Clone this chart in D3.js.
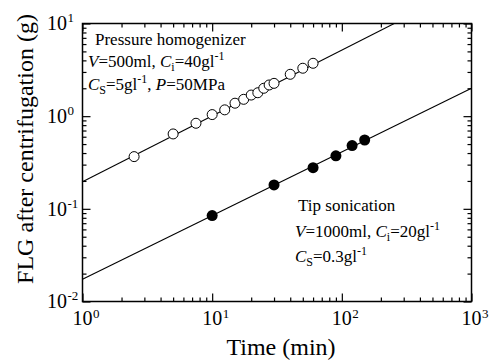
<!DOCTYPE html>
<html lang="en">
<head>
<meta charset="utf-8">
<title>FLG vs time</title>
<script type="text/javascript" src="https://cdn.jsdelivr.net/npm/d3@7/dist/d3.min.js"></script>
<style>
body { margin: 0; background: #fff; }
svg text { font-family: "Liberation Serif", "Times New Roman", serif; fill: #000; }
.tick line { stroke: #000; stroke-width: 1.2; }
.frame { fill: none; stroke: #000; stroke-width: 1.5; }
.fit { fill: none; stroke: #000; stroke-width: 1.1; }
</style>
</head>
<body>
<div id="chart"></div>
<script type="text/javascript">

// pressure homogenizer (open circles)
var homogTime = [2.5, 5, 7.5, 10, 12.5, 15, 17.5, 20, 22.5, 25, 27.5, 30, 40, 50, 60];
var homogMass = [0.366, 0.643, 0.838, 1.04, 1.17, 1.38, 1.52, 1.69, 1.79, 2.0, 2.17, 2.26, 2.83, 3.29, 3.72];

// tip sonication (filled circles)
var tipTime = [10, 30, 60, 90, 120, 150];
var tipMass = [0.0845, 0.181, 0.278, 0.373, 0.481, 0.553];

// fitted lines, end points
var homogFitTime = [1, 1000];
var homogFitMass = [0.196, 26.5];
var tipFitTime = [1, 1000];
var tipFitMass = [0.0174, 2.0];

var timeMajor = [1, 10, 100, 1000];
var massMajor = [0.01, 0.1, 1, 10];
var timeExp = ["0", "1", "2", "3"];
var massExp = ["-2", "-1", "0", "1"];

var W = 494, H = 360;
var margin = {top: 23.5, right: 22.5, bottom: 58.5, left: 82.5},
    width = W - margin.left - margin.right,
    height = H - margin.top - margin.bottom;

var svg = d3.select("#chart").append("svg")
    .attr("width", W)
    .attr("height", H);

var root = svg.append("g")
    .attr("transform", "translate(" + margin.left + "," + margin.top + ")");

var x = d3.scaleLog().domain([1, 1000]).range([0, width]);
var y = d3.scaleLog().domain([0.01, 10]).range([height, 0]);

function isMajor(d) { return Math.abs(Math.log10(d) - Math.round(Math.log10(d))) < 1e-9; }

var xTicks = x.ticks(), yTicks = y.ticks();

function tickLen(d) { return isMajor(d) ? 8 : 4; }

root.append("g").attr("transform", "translate(0," + height + ")")
    .call(d3.axisBottom(x).tickValues(xTicks).tickFormat("").tickSizeOuter(0))
    .call(g => g.select(".domain").remove())
    .call(g => g.selectAll(".tick line").attr("y2", d => -tickLen(d)));

root.append("g")
    .call(d3.axisTop(x).tickValues(xTicks).tickFormat("").tickSizeOuter(0))
    .call(g => g.select(".domain").remove())
    .call(g => g.selectAll(".tick line").attr("y2", d => tickLen(d)));

root.append("g")
    .call(d3.axisLeft(y).tickValues(yTicks).tickFormat("").tickSizeOuter(0))
    .call(g => g.select(".domain").remove())
    .call(g => g.selectAll(".tick line").attr("x2", d => tickLen(d)));

root.append("g").attr("transform", "translate(" + width + ",0)")
    .call(d3.axisRight(y).tickValues(yTicks).tickFormat("").tickSizeOuter(0))
    .call(g => g.select(".domain").remove())
    .call(g => g.selectAll(".tick line").attr("x2", d => -tickLen(d)));

root.append("rect")
    .attr("class", "frame")
    .attr("width", width)
    .attr("height", height);

// tick labels, 10 with superscript exponent
var xl = root.append("g").selectAll("g")
    .data(timeMajor)
    .enter().append("g")
        .attr("transform", d => "translate(" + x(d) + "," + (height + 23.5) + ")");
xl.append("text")
    .attr("text-anchor", "middle")
    .style("font-size", "20px")
    .text("10");
xl.append("text")
    .attr("x", 10.5)
    .attr("y", -7)
    .style("font-size", "13px")
    .text((d, i) => timeExp[i]);

var yl = root.append("g").selectAll("g")
    .data(massMajor)
    .enter().append("g")
        .attr("transform", d => "translate(-15.5," + (y(d) + 6.8) + ")");
yl.append("text")
    .attr("text-anchor", "end")
    .style("font-size", "20px")
    .text("10");
yl.append("text")
    .attr("x", 0.5)
    .attr("y", -8)
    .style("font-size", "13px")
    .text((d, i) => massExp[i]);

// axis titles
svg.append("text")
    .attr("x", margin.left + width / 2 + 4)
    .attr("y", 355)
    .attr("text-anchor", "middle")
    .style("font-size", "24px")
    .text("Time (min)");

svg.append("text")
    .attr("transform", "translate(33,149) rotate(-90)")
    .attr("text-anchor", "middle")
    .style("font-size", "24px")
    .text("FLG after centrifugation (g)");

// fit lines
root.append("clipPath").attr("id", "clip")
    .append("rect").attr("width", width).attr("height", height);

var line = d3.line()
    .x(d => x(d[0]))
    .y(d => y(d[1]));

var plot = root.append("g").attr("clip-path", "url(#clip)");

plot.append("path")
    .attr("class", "fit")
    .attr("d", line(d3.zip(homogFitTime, homogFitMass)));

plot.append("path")
    .attr("class", "fit")
    .attr("d", line(d3.zip(tipFitTime, tipFitMass)));

root.append("g").selectAll("circle")
    .data(d3.zip(homogTime, homogMass))
    .enter().append("circle")
        .attr("cx", d => x(d[0]))
        .attr("cy", d => y(d[1]))
        .attr("r", 5)
        .attr("fill", "#fff")
        .attr("stroke", "#000")
        .attr("stroke-width", 1);

root.append("g").selectAll("circle")
    .data(d3.zip(tipTime, tipMass))
    .enter().append("circle")
        .attr("cx", d => x(d[0]))
        .attr("cy", d => y(d[1]))
        .attr("r", 5.5)
        .attr("fill", "#000");

// annotation text with italics, subscripts and superscripts
function richText(px, py, parts) {
    var t = svg.append("text")
        .attr("x", px)
        .attr("y", py)
        .style("font-size", "17px");
    var shift = 0;
    for (var p of parts) {
        var target = p.sub ? 4 : p.sup ? -7 : 0;
        var span = t.append("tspan")
            .attr("dy", target - shift)
            .text(p.t);
        shift = target;
        if (p.it) span.style("font-style", "italic");
        if (p.sub || p.sup) span.style("font-size", "12px");
    }
}

richText(95, 45, [{t: "Pressure homogenizer"}]);
richText(88, 67, [{t: "V", it: true}, {t: "=500ml, "}, {t: "C", it: true}, {t: "i", sub: true},
    {t: "=40gl"}, {t: "-1", sup: true}]);
richText(88, 90, [{t: "C", it: true}, {t: "S", sub: true}, {t: "=5gl"}, {t: "-1", sup: true},
    {t: ", "}, {t: "P", it: true}, {t: "=50MPa"}]);

richText(298, 211, [{t: "Tip sonication"}]);
richText(295, 236.5, [{t: "V", it: true}, {t: "=1000ml, "}, {t: "C", it: true}, {t: "i", sub: true},
    {t: "=20gl"}, {t: "-1", sup: true}]);
richText(295, 262, [{t: "C", it: true}, {t: "S", sub: true}, {t: "=0.3gl"}, {t: "-1", sup: true}]);

</script>
</body>
</html>
